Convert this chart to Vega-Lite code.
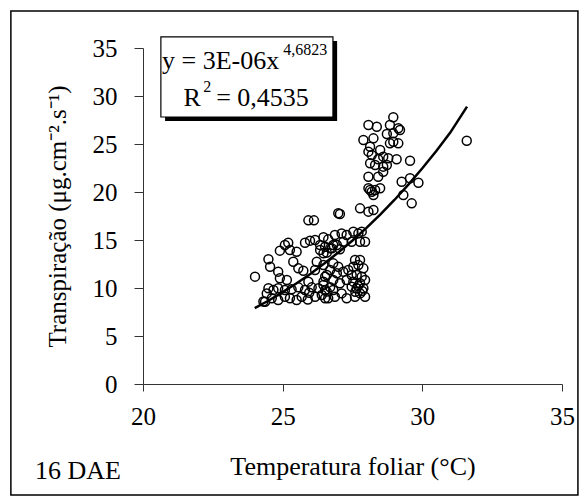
{
  "$schema": "https://vega.github.io/schema/vega-lite/v6.json",
  "width": 419,
  "height": 336,
  "autosize": {"type": "none"},
  "padding": {"left": 143, "top": 48, "right": 22, "bottom": 117},
  "background": "white",
  "config": {
    "font": "Liberation Serif",
    "view": {"stroke": null},
    "axis": {
      "grid": false,
      "domainColor": "#333333",
      "tickColor": "#333333",
      "labelColor": "black",
      "titleColor": "black",
      "labelFontSize": 25,
      "titleFontSize": 25,
      "titleFontWeight": "normal",
      "labelFont": "Liberation Serif",
      "titleFont": "Liberation Serif"
    }
  },
  "datasets": {
    "pts": [
      {"t":28.96,"e":27.78},{"t":28.07,"e":26.98},{"t":28.37,"e":26.80},{"t":28.84,"e":26.98},{"t":29.14,"e":26.64},{"t":28.96,"e":26.11},{"t":28.73,"e":26.04},{"t":27.89,"e":25.42},{"t":28.25,"e":25.59},{"t":28.96,"e":25.24},{"t":29.14,"e":25.07},{"t":28.84,"e":25.07},{"t":28.13,"e":24.72},{"t":28.07,"e":24.20},{"t":28.49,"e":24.38},{"t":28.19,"e":23.85},{"t":28.60,"e":23.68},{"t":28.42,"e":23.41},{"t":28.78,"e":23.51},{"t":29.08,"e":23.41},{"t":29.56,"e":23.26},{"t":28.13,"e":22.99},{"t":28.31,"e":22.81},{"t":28.60,"e":22.64},{"t":28.73,"e":22.81},{"t":28.60,"e":22.11},{"t":28.07,"e":21.59},{"t":28.42,"e":21.59},{"t":28.07,"e":20.39},{"t":28.19,"e":20.03},{"t":28.31,"e":20.21},{"t":28.49,"e":20.39},{"t":28.25,"e":19.69},{"t":28.13,"e":20.21},{"t":29.26,"e":21.07},{"t":29.56,"e":21.43},{"t":29.32,"e":19.69},{"t":29.62,"e":18.82},{"t":29.86,"e":20.97},{"t":29.20,"e":26.46},{"t":31.59,"e":25.34},
      {"t":27.77,"e":18.30},{"t":28.07,"e":17.95},{"t":28.25,"e":18.13},{"t":26.99,"e":17.78},{"t":27.05,"e":17.71},{"t":25.92,"e":17.05},{"t":26.12,"e":17.05},
      {"t":25.20,"e":14.72},{"t":25.08,"e":14.48},{"t":24.90,"e":13.89},{"t":25.26,"e":13.96},{"t":25.50,"e":13.78},{"t":25.80,"e":14.72},{"t":25.98,"e":14.93},{"t":26.16,"e":15.00},{"t":26.34,"e":14.48},{"t":26.46,"e":15.28},{"t":26.52,"e":14.30},{"t":26.70,"e":14.13},{"t":26.58,"e":13.68},{"t":26.34,"e":13.96},{"t":26.87,"e":15.52},{"t":26.81,"e":14.48},{"t":26.63,"e":15.07},{"t":27.11,"e":15.69},{"t":27.29,"e":15.52},{"t":27.53,"e":15.87},{"t":27.71,"e":15.69},{"t":27.83,"e":15.87},{"t":27.95,"e":14.82},{"t":27.77,"e":14.82},{"t":27.47,"e":14.82},{"t":27.17,"e":14.82},{"t":26.94,"e":14.48},{"t":26.76,"e":14.13},{"t":27.05,"e":14.03},{"t":26.46,"e":13.61},
      {"t":24.49,"e":12.99},{"t":24.55,"e":12.22},{"t":24.84,"e":11.70},{"t":25.38,"e":12.74},{"t":25.56,"e":12.05},{"t":25.74,"e":11.80},{"t":24.01,"e":11.18},{"t":24.90,"e":11.01},{"t":25.15,"e":10.83},{"t":25.92,"e":10.66},{"t":26.16,"e":11.88},{"t":26.46,"e":12.40},{"t":26.58,"e":11.35},{"t":26.46,"e":10.66},{"t":27.59,"e":12.92},{"t":27.77,"e":12.92},{"t":27.71,"e":12.40},{"t":26.81,"e":12.57},{"t":26.99,"e":12.22},{"t":26.70,"e":11.88},{"t":26.94,"e":11.53},{"t":27.17,"e":11.70},{"t":26.52,"e":11.18},{"t":27.05,"e":10.49},{"t":27.29,"e":10.83},{"t":27.47,"e":11.35},{"t":27.65,"e":11.35},{"t":27.83,"e":11.18},{"t":27.95,"e":10.83},{"t":27.53,"e":10.66},{"t":27.77,"e":10.49},{"t":26.81,"e":10.83},{"t":27.53,"e":12.22},{"t":27.89,"e":12.05},{"t":27.35,"e":11.88},{"t":26.22,"e":12.74},
      {"t":24.49,"e":9.97},{"t":24.67,"e":9.79},{"t":24.43,"e":9.44},{"t":24.84,"e":9.97},{"t":25.08,"e":9.79},{"t":25.32,"e":9.86},{"t":25.56,"e":10.07},{"t":25.80,"e":9.79},{"t":26.04,"e":10.07},{"t":26.28,"e":9.97},{"t":26.52,"e":9.79},{"t":26.70,"e":10.07},{"t":24.61,"e":8.93},{"t":24.84,"e":8.75},{"t":25.08,"e":9.09},{"t":25.26,"e":8.93},{"t":25.50,"e":8.75},{"t":25.68,"e":9.09},{"t":26.16,"e":9.09},{"t":26.40,"e":9.27},{"t":26.63,"e":8.93},{"t":24.37,"e":8.57},{"t":24.31,"e":8.60},{"t":26.46,"e":10.31},{"t":27.47,"e":10.14},{"t":27.65,"e":9.97},{"t":27.89,"e":9.97},{"t":27.77,"e":9.44},{"t":27.59,"e":9.09},{"t":27.95,"e":9.09},{"t":26.58,"e":9.62},{"t":26.81,"e":9.79},{"t":26.87,"e":9.09},{"t":27.11,"e":9.44},{"t":27.29,"e":8.93},{"t":26.52,"e":8.93},{"t":25.90,"e":8.80},{"t":25.95,"e":9.50},{"t":27.70,"e":10.20},{"t":27.85,"e":9.70},{"t":27.60,"e":9.60}
    ],
    "fit": [
      {"t":24.0,"e":7.90},{"t":24.5,"e":8.70},{"t":25.0,"e":9.57},{"t":25.5,"e":10.50},{"t":26.0,"e":11.49},{"t":26.5,"e":12.57},{"t":27.0,"e":13.72},{"t":27.5,"e":14.95},{"t":28.0,"e":16.26},{"t":28.5,"e":17.67},{"t":29.0,"e":19.17},{"t":29.5,"e":20.77},{"t":30.0,"e":22.47},{"t":30.5,"e":24.28},{"t":31.0,"e":26.19},{"t":31.6,"e":28.90}
    ]
  },
  "layer": [
    {
      "data": {"name": "pts"},
      "mark": {"type": "point", "shape": "circle", "filled": false, "stroke": "black", "strokeWidth": 1.5, "size": 80, "opacity": 1},
      "encoding": {
        "x": {"field": "t", "type": "quantitative", "scale": {"domain": [20, 35], "nice": false, "zero": false}, "title": "Temperatura foliar (°C)",
          "axis": {"values": [20, 25, 30, 35], "tickSize": 7, "labelPadding": 13, "titlePadding": 24, "labelFlush": false, "titleFontSize": 26}},
        "y": {"field": "e", "type": "quantitative", "scale": {"domain": [0, 35], "nice": false}, "title": "Transpiração (μg.cm⁻².s⁻¹)",
          "axis": {"values": [0, 5, 10, 15, 20, 25, 30, 35], "tickSize": 9, "labelPadding": 17, "titlePadding": 22}}
      }
    },
    {
      "data": {"name": "fit"},
      "mark": {"type": "line", "color": "black", "strokeWidth": 2.5},
      "encoding": {
        "x": {"field": "t", "type": "quantitative", "scale": {"domain": [20, 35], "nice": false, "zero": false}, "title": "Temperatura foliar (°C)"},
        "y": {"field": "e", "type": "quantitative", "scale": {"domain": [0, 35], "nice": false}, "title": "Transpiração (μg.cm⁻².s⁻¹)"}
      }
    },
    {
      "data": {"values": [{"x1": 20.79, "x2": 26.95, "y1": 35.73, "y2": 27.40}]},
      "mark": {"type": "rect", "fill": "black"},
      "encoding": {
        "x": {"field": "x1", "type": "quantitative", "scale": {"domain": [20, 35], "nice": false, "zero": false}, "title": "Temperatura foliar (°C)"},
        "x2": {"field": "x2"},
        "y": {"field": "y1", "type": "quantitative", "scale": {"domain": [0, 35], "nice": false}, "title": "Transpiração (μg.cm⁻².s⁻¹)"},
        "y2": {"field": "y2"}
      }
    },
    {
      "data": {"values": [{"x1": 20.64, "x2": 26.80, "y1": 36.15, "y2": 27.81}]},
      "mark": {"type": "rect", "fill": "white", "stroke": "black", "strokeWidth": 1.2},
      "encoding": {
        "x": {"field": "x1", "type": "quantitative", "scale": {"domain": [20, 35], "nice": false, "zero": false}, "title": "Temperatura foliar (°C)"},
        "x2": {"field": "x2"},
        "y": {"field": "y1", "type": "quantitative", "scale": {"domain": [0, 35], "nice": false}, "title": "Transpiração (μg.cm⁻².s⁻¹)"},
        "y2": {"field": "y2"}
      }
    },
    {
      "data": {"values": [{"x1": 15.27, "x2": 35.57, "y1": 38.85, "y2": -11.56}]},
      "mark": {"type": "rect", "fill": null, "stroke": "black", "strokeWidth": 1.5},
      "encoding": {
        "x": {"field": "x1", "type": "quantitative", "scale": {"domain": [20, 35], "nice": false, "zero": false}, "title": "Temperatura foliar (°C)"},
        "x2": {"field": "x2"},
        "y": {"field": "y1", "type": "quantitative", "scale": {"domain": [0, 35], "nice": false}, "title": "Transpiração (μg.cm⁻².s⁻¹)"},
        "y2": {"field": "y2"}
      }
    },
    {
      "data": {"values": [
        {"x": 20.68, "y": 32.8, "label": "y = 3E-06x", "fs": 26},
        {"x": 25.02, "y": 34.3, "label": "4,6823", "fs": 16},
        {"x": 21.45, "y": 29.0, "label": "R", "fs": 26},
        {"x": 22.16, "y": 30.4, "label": "2", "fs": 16},
        {"x": 22.62, "y": 29.0, "label": "= 0,4535", "fs": 26},
        {"x": 16.13, "y": -9.9, "label": "16 DAE", "fs": 26}
      ]},
      "mark": {"type": "text", "align": "left", "baseline": "alphabetic", "color": "black", "font": "Liberation Serif"},
      "encoding": {
        "x": {"field": "x", "type": "quantitative", "scale": {"domain": [20, 35], "nice": false, "zero": false}, "title": "Temperatura foliar (°C)"},
        "y": {"field": "y", "type": "quantitative", "scale": {"domain": [0, 35], "nice": false}, "title": "Transpiração (μg.cm⁻².s⁻¹)"},
        "text": {"field": "label"},
        "size": {"field": "fs", "type": "quantitative", "scale": null, "legend": null}
      }
    }
  ]
}
